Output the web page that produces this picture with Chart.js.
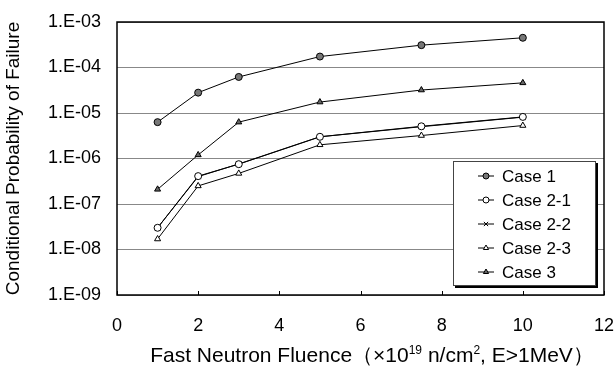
<!DOCTYPE html>
<html>
<head>
<meta charset="utf-8">
<script src="https://cdn.jsdelivr.net/npm/chart.js@4.4.1/dist/chart.umd.min.js"></script>
<style>
  html, body { margin: 0; padding: 0; background: #fff; }
  #wrap { width: 614px; height: 371px; }
</style>
</head>
<body>
<div id="wrap"><canvas id="c" width="614" height="371"></canvas></div>
<script>
const fluence = [1, 2, 3, 5, 7.5, 10];
const case1  = [6.3e-6, 2.8e-5, 6.2e-5, 1.74e-4, 3.1e-4, 4.5e-4];
const case21 = [3.0e-8, 4.1e-7, 7.5e-7, 3.0e-6, 5.1e-6, 8.2e-6];
const case22 = [3.0e-8, 4.0e-7, 7.6e-7, 3.0e-6, 5.0e-6, 8.1e-6];
const case23 = [1.7e-8, 2.5e-7, 4.7e-7, 2.0e-6, 3.2e-6, 5.3e-6];
const case3  = [2.1e-7, 1.2e-6, 6.3e-6, 1.74e-5, 3.2e-5, 4.6e-5];
const yTicks = [1e-9, 1e-8, 1e-7, 1e-6, 1e-5, 1e-4, 1e-3];
// x title pieces: [text, superscript?]
const xTitle = [['Fast Neutron Fluence（×10', false], ['19', true], [' n/cm', false], ['2', true], [', E>1MeV）', false]];
const FONT = 'Arial, "Liberation Sans", sans-serif';

function pts(vals){
	return fluence.map((x, i) => ({x: x, y: vals[i]}));
}

function ds(label, vals, style, fill, r){
	return {
		label: label,
		data: pts(vals),
		borderColor: '#000',
		borderWidth: 1,
		pointStyle: style,
		pointRadius: r,
		pointBackgroundColor: fill,
		pointBorderColor: '#000',
		pointBorderWidth: 1,
		tension: 0
	};
}

const frameAndLegend = {
	id: 'frameAndLegend',
	afterDraw(chart){
		const ctx = chart.ctx;
		const a = chart.chartArea;
		ctx.save();
		// small inward ticks on x axis
		const xs = chart.scales.x;
		ctx.strokeStyle = '#000';
		ctx.lineWidth = 1;
		xs.ticks.forEach(t => {
			const px = Math.round(xs.getPixelForValue(t.value)) + 0.5;
			ctx.beginPath();
			ctx.moveTo(px, a.bottom);
			ctx.lineTo(px, a.bottom - 4);
			ctx.stroke();
		});
		// plot frame
		ctx.lineWidth = 1.5;
		ctx.strokeRect(a.left, a.top, a.right - a.left, a.bottom - a.top);

		// legend box with shadow edge
		const lx = 453, ly = 161, lw = 142, lh = 124;
		ctx.fillStyle = '#fff';
		ctx.fillRect(lx, ly, lw, lh);
		ctx.lineWidth = 1;
		ctx.strokeStyle = '#444';
		ctx.strokeRect(lx + 0.5, ly + 0.5, lw, lh);
		ctx.lineWidth = 2;
		ctx.strokeStyle = '#000';
		ctx.beginPath();
		ctx.moveTo(lx + 2, ly + lh + 2);
		ctx.lineTo(lx + lw + 2, ly + lh + 2);
		ctx.lineTo(lx + lw + 2, ly + 2);
		ctx.stroke();

		ctx.font = '17px ' + FONT;
		ctx.textBaseline = 'middle';
		chart.data.datasets.forEach((d, i) => {
			const y = ly + 15 + i * 24;
			ctx.strokeStyle = '#000';
			ctx.lineWidth = 1;
			ctx.beginPath();
			ctx.moveTo(lx + 25, y);
			ctx.lineTo(lx + 41, y);
			ctx.stroke();
			ctx.fillStyle = d.pointBackgroundColor;
			Chart.helpers.drawPoint(ctx, {pointStyle: d.pointStyle, radius: 3, borderWidth: 1}, lx + 33, y);
			ctx.fillStyle = '#000';
			ctx.textAlign = 'left';
			ctx.fillText(d.label, lx + 49, y + 1);
		});

		// x axis title with real superscripts
		const big = '21px ' + FONT, small = '12px ' + FONT;
		let total = 0;
		xTitle.forEach(p => { ctx.font = p[1] ? small : big; total += ctx.measureText(p[0]).width; });
		let x = 372 - total / 2;
		const base = 362;
		ctx.textAlign = 'left';
		ctx.textBaseline = 'alphabetic';
		ctx.fillStyle = '#000';
		xTitle.forEach(p => {
			ctx.font = p[1] ? small : big;
			ctx.fillText(p[0], x, p[1] ? base - 8 : base);
			x += ctx.measureText(p[0]).width;
		});
		ctx.restore();
	}
};

new Chart(document.getElementById('c'), {
	type: 'line',
	data: {
		datasets: [
			ds('Case 1', case1, 'circle', '#777', 3.5),
			ds('Case 2-1', case21, 'circle', '#fff', 3.5),
			ds('Case 2-2', case22, 'crossRot', '#fff', 3.5),
			ds('Case 2-3', case23, 'triangle', '#fff', 3.5),
			ds('Case 3', case3, 'triangle', '#666', 3.5)
		]
	},
	options: {
		responsive: false,
		animation: false,
		devicePixelRatio: 1,
		layout: { padding: { left: 0, top: 22, right: 10, bottom: 0 } },
		plugins: {
			legend: { display: false },
			tooltip: { enabled: false }
		},
		scales: {
			x: {
				type: 'linear',
				min: 0,
				max: 12,
				ticks: { stepSize: 2, color: '#000', font: { size: 18, family: FONT }, padding: 12 },
				grid: { display: false },
				border: { display: false },
				afterFit(s){ s.height = 76; s.paddingLeft = 0; s.paddingRight = 0; }
			},
			y: {
				type: 'logarithmic',
				min: 1e-9,
				max: 1e-3,
				afterBuildTicks(s){ s.ticks = yTicks.map(v => ({value: v})); },
				ticks: {
					color: '#000',
					font: { size: 18, family: FONT },
					padding: 16,
					callback: v => '1.E-' + String(Math.round(-Math.log10(v))).padStart(2, '0')
				},
				grid: { color: '#888', lineWidth: 1, drawTicks: false },
				border: { display: false },
				title: {
					display: true,
					text: 'Conditional Probability of Failure',
					color: '#000',
					font: { size: 19, family: FONT },
					padding: { top: 2, bottom: 2 }
				},
				afterFit(s){ s.width = 117; s.paddingTop = 0; s.paddingBottom = 0; }
			}
		}
	},
	plugins: [frameAndLegend]
});
</script>
</body>
</html>
